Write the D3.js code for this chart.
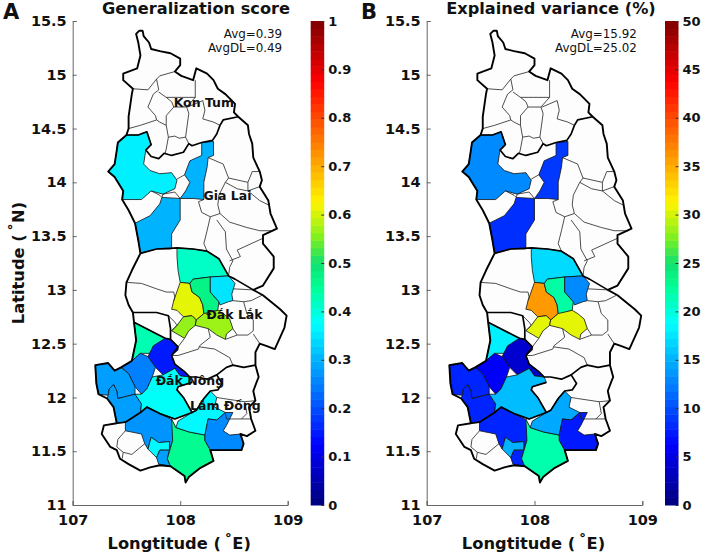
<!DOCTYPE html>
<html>
<head>
  <meta charset="utf-8">
  <title>Generalization score and explained variance</title>
  <script src="https://cdnjs.cloudflare.com/ajax/libs/d3/7.8.5/d3.min.js"></script>
<style>
body { margin: 0; background: white; }
svg { display: block; }
text { font-family: "DejaVu Sans", sans-serif; fill: #111; }
.bold { font-weight: bold; }
.axis path, .axis line { stroke: #666; }
.axis text { font-size: 14.5px; font-weight: bold; font-family: "DejaVu Sans", sans-serif; fill: #111; }
.cbar path { display: none; }
.cbar line { stroke: #333; }
.cbar text { font-size: 13px; font-weight: bold; font-family: "DejaVu Sans", sans-serif; fill: #111; }
</style>
</head>
<body>
<svg width="706" height="557"></svg>
<script>
// whole map outline [lon, lat]
var outline = [[107.62,15.41],[107.65,15.41],[107.66,15.36],[107.71,15.30],[107.73,15.24],[107.81,15.22],[107.91,15.20],[108.00,15.15],[108.00,15.09],[107.95,15.03],[108.01,14.99],[108.12,14.95],[108.15,15.06],[108.25,15.01],[108.31,14.95],[108.35,14.87],[108.42,14.82],[108.46,14.78],[108.51,14.73],[108.50,14.65],[108.54,14.61],[108.63,14.53],[108.64,14.45],[108.67,14.36],[108.68,14.23],[108.74,14.10],[108.76,14.02],[108.74,13.96],[108.82,13.83],[108.84,13.71],[108.90,13.57],[108.77,13.51],[108.77,13.43],[108.87,13.31],[108.87,13.20],[108.77,13.04],[108.68,13.00],[108.77,12.95],[108.93,12.82],[108.99,12.76],[108.97,12.65],[108.88,12.45],[108.80,12.48],[108.74,12.50],[108.70,12.42],[108.70,12.30],[108.73,12.19],[108.71,12.14],[108.68,12.06],[108.70,11.97],[108.64,11.91],[108.66,11.80],[108.70,11.69],[108.62,11.64],[108.56,11.66],[108.59,11.57],[108.57,11.51],[108.43,11.51],[108.28,11.51],[108.31,11.41],[108.18,11.34],[108.08,11.26],[108.05,11.21],[108.04,11.27],[107.91,11.36],[107.81,11.37],[107.72,11.35],[107.63,11.32],[107.52,11.38],[107.44,11.43],[107.41,11.51],[107.35,11.54],[107.27,11.66],[107.29,11.74],[107.41,11.76],[107.38,11.91],[107.32,11.99],[107.24,12.03],[107.22,12.13],[107.21,12.30],[107.33,12.32],[107.39,12.25],[107.45,12.28],[107.55,12.34],[107.59,12.53],[107.57,12.70],[107.56,12.79],[107.52,12.86],[107.49,12.95],[107.50,13.07],[107.55,13.18],[107.63,13.34],[107.61,13.46],[107.58,13.62],[107.52,13.74],[107.46,13.84],[107.47,13.92],[107.39,14.05],[107.33,14.10],[107.39,14.17],[107.41,14.30],[107.42,14.37],[107.50,14.44],[107.52,14.50],[107.52,14.61],[107.55,14.82],[107.56,14.87],[107.47,14.95],[107.47,15.01],[107.60,15.06],[107.63,15.18],[107.61,15.30],[107.59,15.38]];

// province borders inside the outline
var provinceLines = [
  [[107.50,14.44],[107.61,14.44],[107.69,14.47],[107.73,14.35],[107.68,14.30],[107.73,14.24],[107.80,14.22],[107.85,14.27],[107.92,14.25],[108.03,14.28],[108.08,14.36],[108.11,14.34],[108.20,14.37],[108.30,14.39],[108.34,14.45],[108.37,14.53],[108.40,14.58],[108.54,14.61]],
  [[107.63,13.34],[107.78,13.38],[107.97,13.39],[108.12,13.38],[108.25,13.36],[108.36,13.29],[108.45,13.13],[108.51,13.10],[108.68,13.00]],
  [[108.70,12.30],[108.59,12.28],[108.49,12.30],[108.43,12.28],[108.34,12.21],[108.25,12.17],[108.15,12.19],[108.09,12.19],[108.04,12.24],[107.95,12.31],[107.92,12.39],[107.98,12.47],[107.91,12.54],[107.86,12.55],[107.57,12.70]],
  [[107.56,12.79],[107.78,12.79],[107.89,12.76],[107.91,12.64],[107.91,12.54]],
  [[108.11,12.14],[107.98,12.10],[107.97,12.07],[108.03,12.00],[108.11,11.86],[107.95,11.80],[107.81,11.85],[107.69,11.91],[107.63,11.86],[107.49,11.77],[107.41,11.76]],
  [[108.34,12.21],[108.39,12.13],[108.35,12.07],[108.28,12.06],[108.22,11.99],[108.15,11.88],[108.11,11.86]]
];

// district borders between the white districts
var districtLines = [
  [[107.56,14.87],[107.70,14.86],[107.78,14.96],[107.81,14.99],[107.95,15.03]],
  [[107.78,14.96],[107.80,14.86],[107.75,14.82],[107.70,14.70],[107.77,14.62],[107.78,14.58]],
  [[107.52,14.50],[107.63,14.53],[107.78,14.58],[107.81,14.56],[107.87,14.53],[107.89,14.42],[107.87,14.31],[107.86,14.27]],
  [[107.80,14.84],[107.87,14.79],[107.92,14.75],[107.94,14.70],[107.87,14.62],[107.87,14.53]],
  [[107.89,14.42],[107.95,14.43],[107.99,14.41],[108.05,14.42],[108.08,14.36]],
  [[107.94,14.70],[108.06,14.70],[108.08,14.64],[108.05,14.42]],
  [[107.87,14.79],[107.99,14.79],[108.14,14.79]],
  [[108.14,14.95],[108.14,14.86],[108.14,14.79],[108.06,14.70]],
  [[108.07,14.70],[108.21,14.76],[108.23,14.67],[108.21,14.59],[108.31,14.56],[108.37,14.53]],
  [[107.97,14.03],[108.04,14.07]],
  [[107.84,13.89],[107.95,13.91],[108.00,13.85]],
  [[107.73,13.92],[107.81,13.88],[107.83,13.86],[107.84,13.89]],
  [[108.26,14.23],[108.40,14.17],[108.45,14.04],[108.42,14.00],[108.36,13.88],[108.35,13.79],[108.37,13.71],[108.28,13.68],[108.20,13.72],[108.17,13.82],[108.22,13.84]],
  [[108.45,14.04],[108.63,14.00],[108.67,14.10],[108.74,14.10]],
  [[108.63,14.00],[108.63,13.92],[108.74,13.96]],
  [[108.42,14.00],[108.53,13.94],[108.63,13.92],[108.74,13.83],[108.82,13.79]],
  [[108.37,13.71],[108.46,13.63],[108.62,13.58],[108.74,13.55],[108.87,13.55]],
  [[108.28,13.68],[108.25,13.55],[108.22,13.43],[108.25,13.36]],
  [[108.34,13.65],[108.42,13.54],[108.43,13.38],[108.49,13.27],[108.46,13.21],[108.45,13.13]],
  [[108.46,13.27],[108.56,13.31],[108.53,13.37],[108.77,13.48]],
  [[107.50,13.07],[107.64,13.06],[107.78,13.01],[107.87,12.98],[107.94,12.98],[107.95,12.93],[107.94,12.90]],
  [[107.89,12.76],[107.95,12.70],[107.97,12.67],[107.92,12.62]],
  [[108.49,13.01],[108.68,13.00]],
  [[108.49,12.90],[108.59,12.89],[108.66,12.90],[108.76,12.95]],
  [[108.59,12.89],[108.62,12.78],[108.68,12.72],[108.68,12.62],[108.63,12.58],[108.53,12.58],[108.49,12.64]],
  [[108.68,12.59],[108.74,12.50]],
  [[108.26,12.64],[108.28,12.56],[108.18,12.48],[108.17,12.45],[107.98,12.39],[107.92,12.39]],
  [[108.04,12.55],[107.98,12.47]],
  [[108.18,12.47],[108.32,12.45],[108.46,12.37],[108.49,12.30]],
  [[108.42,12.54],[108.53,12.58]],
  [[108.34,12.00],[108.40,11.99],[108.60,11.96],[108.70,11.97]],
  [[108.60,11.96],[108.62,11.85],[108.57,11.80],[108.43,11.80],[108.42,11.86]],
  [[108.57,11.80],[108.66,11.80]],
  [[107.49,11.69],[107.42,11.61],[107.41,11.54],[107.47,11.49],[107.55,11.47],[107.67,11.57]],
  [[107.47,11.49],[107.46,11.43]]
];

// districts that have a value
var districtRings = [
  [[107.50,14.44],[107.61,14.44],[107.69,14.47],[107.73,14.35],[107.68,14.30],[107.66,14.17],[107.72,14.11],[107.81,14.08],[107.92,14.09],[107.97,14.02],[107.95,13.94],[107.84,13.89],[107.73,13.92],[107.64,13.84],[107.46,13.84],[107.47,13.92],[107.39,14.05],[107.33,14.10],[107.39,14.17],[107.41,14.30],[107.42,14.37]],
  [[108.20,14.37],[108.31,14.38],[108.31,14.25],[108.26,14.23],[108.25,14.14],[108.22,14.00],[108.22,13.84],[108.12,13.85],[108.00,13.85],[108.05,13.92],[108.09,14.00],[108.04,14.07],[108.09,14.20],[108.20,14.25]],
  [[107.83,13.86],[108.00,13.85],[108.00,13.65],[107.92,13.52],[107.92,13.38],[107.78,13.38],[107.63,13.34],[107.61,13.46],[107.58,13.62],[107.72,13.69],[107.81,13.80]],
  [[107.97,13.39],[108.12,13.38],[108.25,13.36],[108.36,13.29],[108.45,13.13],[108.28,13.12],[108.12,13.10],[108.09,13.06],[108.00,13.07],[107.98,13.18],[107.97,13.31]],
  [[108.00,13.07],[108.09,13.06],[108.11,12.98],[108.18,12.93],[108.21,12.86],[108.22,12.78],[108.15,12.72],[108.11,12.76],[108.03,12.75],[107.97,12.81],[107.92,12.82],[107.94,12.90]],
  [[108.12,13.10],[108.28,13.12],[108.28,12.98],[108.36,12.89],[108.35,12.81],[108.25,12.78],[108.22,12.78],[108.21,12.86],[108.18,12.93],[108.11,12.98],[108.09,13.06]],
  [[108.28,13.12],[108.45,13.13],[108.51,13.06],[108.48,12.96],[108.49,12.90],[108.45,12.89],[108.37,12.86],[108.36,12.89],[108.28,12.98]],
  [[107.97,12.67],[108.03,12.75],[108.11,12.76],[108.15,12.72],[108.14,12.67],[108.08,12.62],[108.04,12.55],[107.92,12.62]],
  [[108.15,12.72],[108.22,12.78],[108.35,12.81],[108.40,12.78],[108.46,12.73],[108.49,12.64],[108.43,12.59],[108.42,12.54],[108.34,12.58],[108.26,12.64],[108.14,12.67]],
  [[107.57,12.70],[107.86,12.55],[107.72,12.41],[107.63,12.41],[107.55,12.34],[107.59,12.53]],
  [[107.86,12.55],[107.91,12.54],[107.98,12.47],[107.98,12.44],[107.92,12.39],[107.95,12.31],[108.04,12.24],[108.09,12.19],[108.00,12.20],[107.95,12.27],[107.84,12.21],[107.77,12.28],[107.70,12.38],[107.75,12.48]],
  [[107.63,12.41],[107.70,12.38],[107.77,12.28],[107.74,12.19],[107.69,12.08],[107.64,12.03],[107.58,12.10],[107.52,12.22],[107.45,12.28],[107.55,12.34]],
  [[107.21,12.30],[107.33,12.32],[107.39,12.25],[107.45,12.28],[107.52,12.22],[107.58,12.10],[107.58,12.03],[107.42,11.99],[107.41,12.06],[107.38,12.12],[107.34,12.08],[107.33,12.02],[107.24,12.03],[107.22,12.13]],
  [[107.33,12.02],[107.34,12.08],[107.38,12.12],[107.41,12.06],[107.42,11.99],[107.58,12.03],[107.64,11.94],[107.63,11.86],[107.49,11.77],[107.41,11.76],[107.38,11.91],[107.32,11.99]],
  [[107.74,12.19],[107.84,12.21],[107.95,12.27],[108.00,12.20],[108.09,12.19],[108.11,12.14],[107.98,12.10],[107.97,12.07],[108.03,12.00],[108.11,11.86],[107.95,11.80],[107.81,11.85],[107.69,11.91],[107.63,11.86],[107.64,11.94],[107.58,12.03],[107.64,12.03],[107.69,12.08]],
  [[107.49,11.77],[107.63,11.86],[107.69,11.91],[107.81,11.85],[107.91,11.80],[107.96,11.72],[107.93,11.60],[107.90,11.51],[107.90,11.59],[107.80,11.58],[107.73,11.63],[107.70,11.52],[107.67,11.57],[107.64,11.66],[107.49,11.69]],
  [[107.73,11.63],[107.80,11.58],[107.90,11.59],[107.90,11.51],[107.81,11.51],[107.78,11.44],[107.70,11.52]],
  [[107.81,11.51],[107.90,11.51],[107.88,11.43],[107.91,11.36],[107.80,11.38],[107.78,11.44]],
  [[107.92,11.80],[107.96,11.72],[108.08,11.68],[108.23,11.65],[108.23,11.60],[108.28,11.51],[108.31,11.41],[108.18,11.34],[108.08,11.26],[108.05,11.21],[108.04,11.27],[107.91,11.36],[107.88,11.43],[107.93,11.60]],
  [[107.96,11.72],[107.98,11.78],[108.11,11.86],[108.15,11.88],[108.22,11.99],[108.28,12.06],[108.34,12.00],[108.32,11.91],[108.42,11.86],[108.34,11.79],[108.26,11.80],[108.23,11.65],[108.08,11.68]],
  [[108.49,11.86],[108.43,11.74],[108.40,11.69],[108.46,11.65],[108.56,11.66],[108.59,11.57],[108.57,11.51],[108.43,11.51],[108.28,11.51],[108.23,11.60],[108.23,11.65],[108.26,11.80],[108.34,11.79],[108.42,11.86]]
];

// same order as districtRings
var scoreValues = [0.36,0.30,0.30,0.415,0.61,0.47,0.35,0.565,0.57,0.43,0.15,0.25,0.28,0.28,0.38,0.27,0.37,0.28,0.455,0.37,0.26];
var varianceValues = [13,9,8.5,17,36,22,13,30.5,30.5,18,4,6,8,8,15.5,8,15,8,21.7,14.5,7.5];

var provinceNames = ["Kon Tum", "Gia Lai", "Đắk Lắk", "Đắk Nông", "Lâm Đồng"];
var provinceLon = [108.22, 108.44, 108.505, 108.09, 108.42];
var provinceLat = [14.70, 13.84, 12.73, 12.115, 11.88];

var lonTicks = [107, 108, 109];
var latTicks = [11, 11.5, 12, 12.5, 13, 13.5, 14, 14.5, 15, 15.5];
var scoreTicks = [0, 0.1, 0.2, 0.3, 0.4, 0.5, 0.6, 0.7, 0.8, 0.9, 1];
var varianceTicks = [0, 5, 10, 15, 20, 25, 30, 35, 40, 45, 50];

// colormap
var mapStops = [0, 0.125, 0.375, 0.45, 0.5, 0.55, 0.625, 0.875, 1];
var mapColors = ["#00007a", "#0000ff", "#00ffff", "#00ff96", "#10e070", "#7af020", "#fff600", "#ff0000", "#7f0000"];
var colormap = d3.scaleLinear().domain(mapStops).range(mapColors);
var levels = d3.range(64).map(function (i) { return i / 64; });

var svg = d3.select("svg");

var panels = [
  {letter: "A", letterX: 3, title: "Generalization score", titleX: 196, values: scoreValues, ticks: scoreTicks, max: 1,
   stats: ["Avg=0.39", "AvgDL=0.49"], x0: 72.7, x1: 287.7, barX: 310.7, labels: true},
  {letter: "B", letterX: 361, title: "Explained variance (%)", titleX: 551, values: varianceValues, ticks: varianceTicks, max: 50,
   stats: ["Avg=15.92", "AvgDL=25.02"], x0: 426.7, x1: 642.3, barX: 665, labels: false}
];

panels.forEach(function (p) {
  var x = d3.scaleLinear().domain([107, 109]).range([p.x0, p.x1]);
  var y = d3.scaleLinear().domain([11, 15.5]).range([505, 21]);
  var path = d3.line().x(function (d) { return x(d[0]); }).y(function (d) { return y(d[1]); });
  var g = svg.append("g");

  g.append("path").attr("d", path(outline) + "Z").attr("fill", "#fdfdfd");

  g.selectAll(".district")
    .data(districtRings)
    .enter().append("path")
      .attr("class", "district")
      .attr("d", function (d) { return path(d) + "Z"; })
      .attr("fill", function (d, i) { return colormap(p.values[i] / p.max); })
      .attr("stroke", "#111")
      .attr("stroke-width", 0.8)
      .attr("stroke-linejoin", "round");

  g.selectAll(".dline")
    .data(districtLines)
    .enter().append("path")
      .attr("class", "dline")
      .attr("d", path)
      .attr("fill", "none")
      .attr("stroke", "#222")
      .attr("stroke-width", 0.8);

  g.selectAll(".pline")
    .data(provinceLines)
    .enter().append("path")
      .attr("class", "pline")
      .attr("d", path)
      .attr("fill", "none")
      .attr("stroke", "#000")
      .attr("stroke-width", 1.7)
      .attr("stroke-linejoin", "round");

  g.append("path")
    .attr("d", path(outline) + "Z")
    .attr("fill", "none")
    .attr("stroke", "#000")
    .attr("stroke-width", 1.9)
    .attr("stroke-linejoin", "round");

  // axes, ticks point inward
  g.append("g")
    .attr("class", "axis")
    .attr("transform", "translate(0,505)")
    .call(d3.axisBottom(x).tickValues(lonTicks).tickFormat(d3.format("d")).tickSizeInner(-4).tickSizeOuter(-4).tickPadding(10));
  g.append("g")
    .attr("class", "axis")
    .attr("transform", "translate(" + p.x0 + ",0)")
    .call(d3.axisLeft(y).tickValues(latTicks).tickFormat(function (d) { return d; }).tickSizeInner(-4).tickSizeOuter(-4).tickPadding(6));

  var xl = g.append("text").attr("class", "bold")
    .attr("x", (p.x0 + p.x1) / 2 - 1).attr("y", 549)
    .attr("text-anchor", "middle").attr("font-size", 16.3);
  xl.append("tspan").text("Longtitude (\u2009");
  xl.append("tspan").attr("dy", -2).text("˚");
  xl.append("tspan").attr("dy", 2).text("E)");

  if (p.labels) {
    var yl = g.append("text").attr("class", "bold")
      .attr("transform", "translate(24,263) rotate(-90)")
      .attr("text-anchor", "middle").attr("font-size", 16.3);
    yl.append("tspan").text("Latitude (\u2009");
    yl.append("tspan").attr("dy", -2).text("˚");
    yl.append("tspan").attr("dy", 2).text("N)");
    g.selectAll(".prov")
      .data(provinceNames)
      .enter().append("text")
        .attr("class", "prov bold")
        .attr("x", function (d, i) { return x(provinceLon[i]); })
        .attr("y", function (d, i) { return y(provinceLat[i]); })
        .attr("text-anchor", "middle")
        .attr("font-size", 12.5)
        .text(function (d) { return d; });
  }

  g.append("text").attr("class", "bold")
    .attr("x", p.titleX).attr("y", 14)
    .attr("text-anchor", "middle").attr("font-size", 16.2)
    .text(p.title);

  g.append("text").attr("class", "bold")
    .attr("x", p.letterX).attr("y", 19)
    .attr("font-size", 21)
    .text(p.letter);

  g.selectAll(".stat")
    .data(p.stats)
    .enter().append("text")
      .attr("class", "stat")
      .attr("x", p.x1 - 5.5)
      .attr("y", function (d, i) { return 37.5 + 14.5 * i; })
      .attr("text-anchor", "end")
      .attr("font-size", 11.9)
      .text(function (d) { return d; });

  // colorbar
  var barY = d3.scaleLinear().domain([0, p.max]).range([505, 21]);
  var barW = 13.5;
  g.selectAll(".lvl")
    .data(levels)
    .enter().append("rect")
      .attr("class", "lvl")
      .attr("x", p.barX)
      .attr("width", barW)
      .attr("y", function (d) { return barY((d + 1 / 64) * p.max); })
      .attr("height", function (d) { return barY(d * p.max) - barY((d + 1 / 64) * p.max) + 0.5; })
      .attr("fill", function (d) { return colormap(d + 1 / 128); });
  g.append("g")
    .attr("class", "cbar")
    .attr("transform", "translate(" + (p.barX + barW) + ",0)")
    .call(d3.axisRight(barY).tickValues(p.ticks).tickFormat(function (d) { return d; }).tickSize(-3).tickPadding(4));
});
</script>
</body>
</html>
